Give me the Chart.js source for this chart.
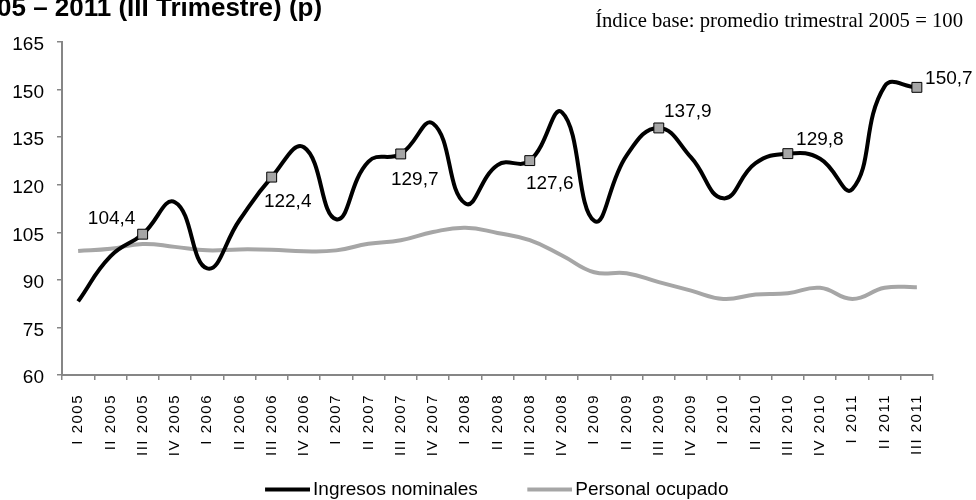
<!DOCTYPE html>
<html>
<head>
<meta charset="utf-8">
<script src="https://cdn.jsdelivr.net/npm/chart.js@4/dist/chart.umd.min.js"></script>
<style>
  html, body { margin: 0; padding: 0; background: #fff; }
  #caja { width: 976px; height: 500px; position: relative; }
</style>
</head>
<body>
<div id="caja"><canvas id="grafico"></canvas></div>
<script>
// datos (indice 2005 = 100)
var trimestres = ['I 2005', 'II 2005', 'III 2005', 'IV 2005',
  'I 2006', 'II 2006', 'III 2006', 'IV 2006',
  'I 2007', 'II 2007', 'III 2007', 'IV 2007',
  'I 2008', 'II 2008', 'III 2008', 'IV 2008',
  'I 2009', 'II 2009', 'III 2009', 'IV 2009',
  'I 2010', 'II 2010', 'III 2010', 'IV 2010',
  'I 2011', 'II 2011', 'III 2011'];

var ingresos = [83.2, 97.4, 104.4, 114.5, 93.6, 108.8, 122.4, 131.8, 109.1,
  127.3, 129.7, 139.3, 114.1, 126.2, 127.6, 142.8, 108.6, 129.2, 137.9,
  128.6, 115.7, 126.8, 129.8, 128.2, 118.6, 151.0, 150.7];

var personal = [99.1, 99.8, 101.3, 100.4, 99.3, 99.6, 99.5, 99.0, 99.3,
  101.4, 102.5, 105.1, 106.4, 104.8, 102.5, 97.7, 92.4, 92.1, 89.3,
  86.6, 84.0, 85.4, 85.8, 87.5, 84.0, 87.5, 87.7];

var ticksY = [60, 75, 90, 105, 120, 135, 150, 165];

// puntos con marcador y etiqueta (III trimestre de cada año)
var marcados = [2, 6, 10, 14, 18, 22, 26];

// desplazamiento de cada etiqueta respecto a su punto
var offsets = [[-31, -15], [16, 25], [14, 26], [20, 23], [29, -16], [32, -14], [32, -9]];

var fuente = "'Liberation Sans', Arial, sans-serif";
Chart.defaults.font.family = fuente;
Chart.defaults.color = '#000';

function radios() {
  return ingresos.map(function (v, i) { return marcados.indexOf(i) >= 0 ? 7 : 0; });
}

// muestra de linea para la leyenda (el trazo va pegado al texto)
function muestra(color) {
  var c = document.createElement('canvas');
  c.width = 91; c.height = 6;
  var x = c.getContext('2d');
  x.fillStyle = color;
  x.fillRect(46, 1, 45, 4);
  return c;
}
var muestras = [muestra('#000000'), muestra('#a6a6a6')];

var etiquetas = {
  id: 'etiquetas',
  afterDatasetsDraw: function (chart) {
    var ctx = chart.ctx;
    var meta = chart.getDatasetMeta(0);
    ctx.save();
    ctx.font = '19px ' + fuente;
    ctx.fillStyle = '#000';
    ctx.textAlign = 'center';
    ctx.textBaseline = 'middle';
    marcados.forEach(function (idx, k) {
      var p = meta.data[idx];
      ctx.fillText(ingresos[idx].toFixed(1).replace('.', ','), p.x + offsets[k][0], p.y + offsets[k][1]);
    });
    ctx.restore();
  },
  afterDraw: function (chart) {
    var ctx = chart.ctx;
    ctx.save();
    ctx.fillStyle = '#000';
    ctx.textBaseline = 'alphabetic';
    ctx.font = 'bold 26px ' + fuente;
    ctx.textAlign = 'left';
    ctx.fillText('05 – 2011 (III Trimestre) (p)', -3, 16);
    ctx.font = "20.7px 'Liberation Serif', 'Times New Roman', serif";
    ctx.textAlign = 'right';
    ctx.fillText('Índice base: promedio trimestral 2005 = 100', 963, 27);
    ctx.restore();
  },
  beforeDraw: function (chart) {
    // etiquetas del eje x algo espaciadas como en el original
    var s = chart.scales.x;
    if (s && !s._espaciado) {
      var orig = s.drawLabels;
      s.drawLabels = function (area) {
        var c = this.ctx;
        c.save();
        c.letterSpacing = '1.5px';
        orig.call(this, area);
        c.restore();
      };
      s._espaciado = true;
    }
  }
};

new Chart(document.getElementById('grafico'), {
  type: 'line',
  data: {
    labels: trimestres,
    datasets: [{
      label: 'Ingresos nominales',
      data: ingresos,
      borderColor: '#000000',
      backgroundColor: '#000000',
      borderWidth: 4,
      tension: 0.45,
      pointStyle: 'rect',
      pointRadius: radios(),
      pointBackgroundColor: '#a6a6a6',
      pointBorderColor: '#000000',
      pointBorderWidth: 1,
      fill: false
    }, {
      label: 'Personal ocupado',
      data: personal,
      borderColor: '#a6a6a6',
      backgroundColor: '#a6a6a6',
      borderWidth: 4,
      tension: 0.45,
      pointRadius: 0,
      fill: false
    }]
  },
  options: {
    responsive: true,
    maintainAspectRatio: false,
    animation: false,
    layout: { padding: { top: 42, left: 0, right: 22, bottom: -9 } },
    plugins: {
      tooltip: { enabled: false },
      title: { display: false },
      legend: {
        position: 'bottom',
        labels: {
          usePointStyle: true,
          pointStyleWidth: 78,
          padding: 10,
          font: { size: 19 },
          color: '#000',
          generateLabels: function (chart) {
            var items = Chart.defaults.plugins.legend.labels.generateLabels(chart);
            items.forEach(function (it, i) { it.pointStyle = muestras[i]; });
            return items;
          }
        }
      }
    },
    scales: {
      x: {
        offset: true,
        grid: { offset: true, drawOnChartArea: false, tickLength: 5, color: '#868686', lineWidth: 1.5 },
        border: { color: '#868686', width: 2 },
        ticks: { autoSkip: false, maxRotation: 90, minRotation: 90, padding: 14, font: { size: 15 }, color: '#000' },
        afterFit: function (s) { s.height = 95; }
      },
      y: {
        min: 60,
        max: 165,
        afterBuildTicks: function (s) { s.ticks = ticksY.map(function (v) { return { value: v }; }); },
        grid: { drawOnChartArea: false, tickLength: 5, color: '#868686', lineWidth: 1.5 },
        border: { color: '#868686', width: 2 },
        ticks: { padding: 13, labelOffset: 3, font: { size: 19 }, color: '#000' },
        afterFit: function (s) { s.width = 62; }
      },
      y2: {
        position: 'right',
        display: true,
        grid: { display: false },
        border: { display: false },
        ticks: { display: false },
        afterFit: function (s) { s.width = 21; }
      }
    }
  },
  plugins: [etiquetas]
});
</script>
</body>
</html>
